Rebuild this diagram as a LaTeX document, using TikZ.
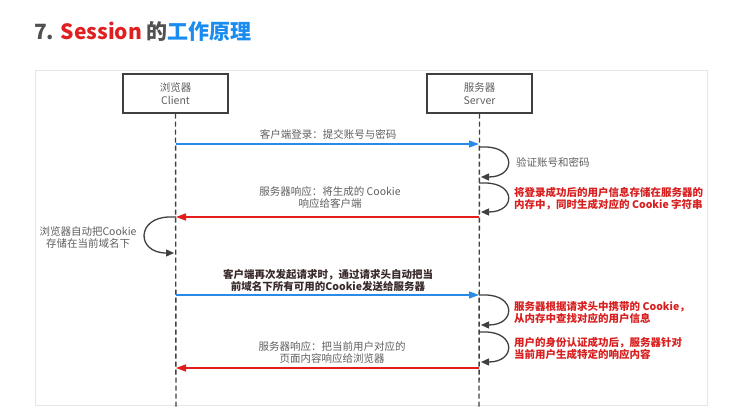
\documentclass[tikz,border=0pt]{standalone}
\usepackage{fontspec}
\setmainfont{Noto Sans CJK SC}
\usetikzlibrary{arrows.meta}
\definecolor{ttlred}{HTML}{E02020}
\definecolor{ttlblue}{HTML}{1A8CF0}
\definecolor{ttlgray}{HTML}{505050}
\definecolor{msgblue}{HTML}{2A8AE8}
\definecolor{msgred}{HTML}{E41C1C}
\definecolor{notered}{HTML}{D81E1E}
\definecolor{txtgray}{HTML}{606060}
\definecolor{txtdark}{HTML}{3A2A2A}
\definecolor{linegray}{HTML}{404040}
\definecolor{panelgray}{HTML}{E6E6E6}
\tikzset{
  lbl/.style={font=\fontsize{10.5}{12}\selectfont, align=center, inner sep=0pt},
  graylbl/.style={lbl, text=txtgray},
  notelbl/.style={lbl, align=left, anchor=west, text=notered, font=\fontsize{10.5}{12}\selectfont\bfseries},
  actor/.style={draw=linegray, line width=1.4pt, minimum width=105pt, minimum height=39pt,
    align=center, text=txtgray, font=\fontsize{10.5}{13}\selectfont},
  lifeline/.style={draw=linegray, line width=1.4pt, dash pattern=on 5pt off 3pt},
  reqmsg/.style={draw=msgblue, line width=1.4pt, -{Triangle[length=10pt,width=7pt]}},
  resmsg/.style={draw=msgred, line width=1.4pt, -{Triangle[length=10pt,width=7pt]}},
  selfloop/.style={draw=linegray, line width=1.3pt, -{Triangle[length=8pt,width=7pt]}},
}
\begin{document}
\begin{tikzpicture}[x=1pt,y=-1pt]
\useasboundingbox (0,0) rectangle (745,407);
\fill[white] (0,0) rectangle (745,407);
\draw[panelgray, line width=0.8pt] (35,70) rectangle (707,405);

% heading
\node[anchor=west, inner sep=0pt, font=\fontsize{21}{24}\selectfont\bfseries] (title) at (34,32)
  {\textcolor{ttlgray}{7.} \textcolor{ttlred}{Session} \textcolor{ttlgray}{的}\textcolor{ttlblue}{工作原理}};

% participants
\node[actor] (client) at (175.5,93.5) {浏览器\\Client};
\node[actor] (server) at (479.5,93.5) {服务器\\Server};

% lifelines
\coordinate (cEnd) at (176,407);
\coordinate (sEnd) at (479,407);
\draw[lifeline] (client.south) -- (cEnd);
\draw[lifeline] (server.south) -- (sEnd);

% points on the lifelines
\coordinate (c1) at (176,144);  \coordinate (s1) at (479,144);
\coordinate (c2) at (176,217);  \coordinate (s2) at (479,217);
\coordinate (c3) at (176,295);  \coordinate (s3) at (479,295);
\coordinate (c4) at (176,368);  \coordinate (s4) at (479,368);

% 1: login request
\draw[reqmsg] (c1) -- (s1);
\node[graylbl] (m1) at (328,134) {客户端登录：提交账号与密码};

% server checks credentials
\coordinate (la1) at (479,147); \coordinate (la2) at (481,177);
\draw[selfloop] (la1) -- ++(6,0) .. controls (516,147) and (516,177) .. (la2);
\node[graylbl, anchor=west] (n1) at (516,162) {验证账号和密码};

% server stores session
\coordinate (lb1) at (479,183); \coordinate (lb2) at (481,212);
\draw[selfloop] (lb1) -- ++(6,0) .. controls (516,183) and (516,212) .. (lb2);
\node[notelbl] (n2) at (514,199) {将登录成功后的用户信息存储在服务器的\\内存中，同时生成对应的 Cookie 字符串};

% 2: response with cookie
\draw[resmsg] (s2) -- (c2);
\node[graylbl] (m2) at (330,198) {服务器响应：将生成的 Cookie\\响应给客户端};

% browser stores cookie
\coordinate (lc1) at (176,217); \coordinate (lc2) at (174,253);
\draw[selfloop] (lc1) -- ++(-6,0) .. controls (136,217) and (136,253) .. (lc2);
\node[graylbl] (n3) at (88,238) {浏览器自动把Cookie\\存储在当前域名下};

% 3: request carrying cookie
\draw[reqmsg] (c3) -- (s3);
\node[lbl, text=txtdark, font=\fontsize{10.5}{12}\selectfont\bfseries] (m3) at (328,280)
  {客户端再次发起请求时，通过请求头自动把当\\前域名下所有可用的Cookie发送给服务器};

% server looks up session
\coordinate (ld1) at (479,295); \coordinate (ld2) at (481,325);
\draw[selfloop] (ld1) -- ++(6,0) .. controls (516,295) and (516,325) .. (ld2);
\node[notelbl] (n4) at (514,313) {服务器根据请求头中携带的 Cookie，\\从内存中查找对应的用户信息};

% server builds response
\coordinate (le1) at (479,332); \coordinate (le2) at (481,362);
\draw[selfloop] (le1) -- ++(6,0) .. controls (516,332) and (516,362) .. (le2);
\node[notelbl] (n5) at (514,348) {用户的身份认证成功后，服务器针对\\当前用户生成特定的响应内容};

% 4: page response
\draw[resmsg] (s4) -- (c4);
\node[graylbl] (m4) at (332,353) {服务器响应：把当前用户对应的\\页面内容响应给浏览器};
\end{tikzpicture}
\end{document}
